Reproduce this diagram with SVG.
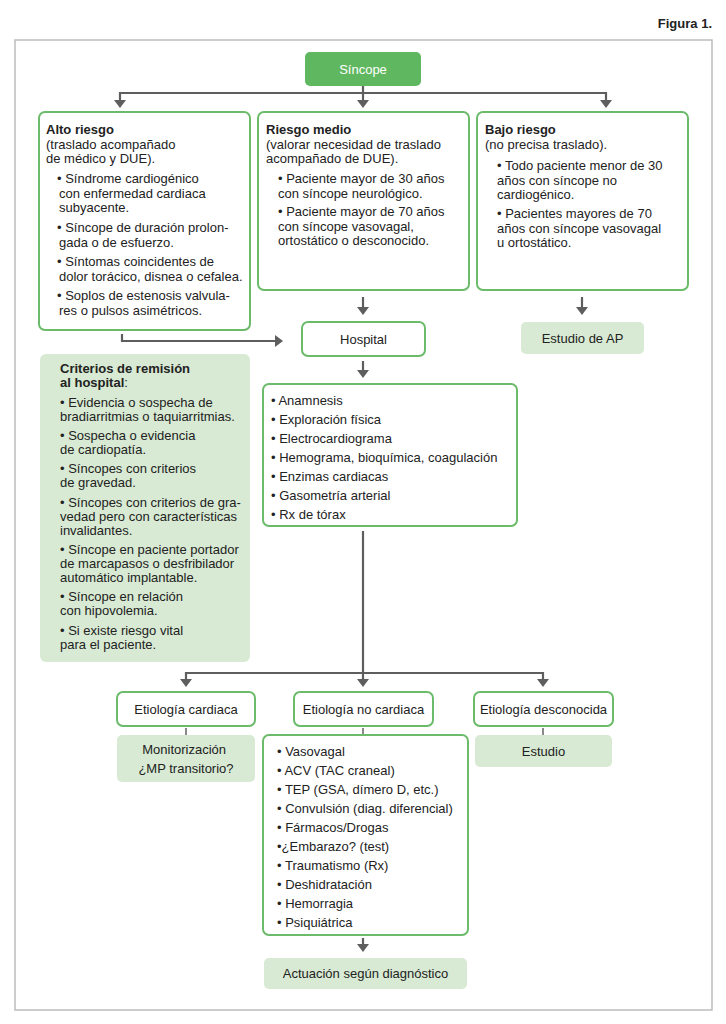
<svg xmlns="http://www.w3.org/2000/svg" width="726" height="1024" viewBox="0 0 726 1024">
<style>
.t{font-family:"Liberation Sans",Arial,sans-serif;font-size:13px;fill:#222}
.b{font-weight:bold}
.c{text-anchor:middle}
.box{fill:#fff;stroke:#6cbb6b;stroke-width:2}
.lt{fill:#d8ead3}
.ln{fill:none;stroke:#5e5e5e;stroke-width:2.2;marker-end:url(#ah)}
.tk{fill:none;stroke:#8a8a8a;stroke-width:2}
</style>
<defs>
<marker id="ah" markerUnits="userSpaceOnUse" markerWidth="8" markerHeight="12" viewBox="0 0 8 12" refX="1" refY="6" orient="auto">
<path d="M0,0 L8,6 L0,12 z" fill="#5e5e5e"/>
</marker>
</defs>
<rect width="726" height="1024" fill="#fff"/>
<text class="t b" x="712" y="28" text-anchor="end" font-size="13.5">Figura 1.</text>
<rect x="15" y="40" width="697" height="970" fill="#fff" stroke="#bdbdbd" stroke-width="1.5"/>

<g id="connectors">
<path class="ln" d="M363,86 V101"/>
<path class="ln" d="M363,93 H120 V101"/>
<path class="ln" d="M363,93 H606 V101"/>
<path class="ln" d="M122,334 V341 H276"/>
<path class="ln" d="M363,297 V308"/>
<path class="ln" d="M582,297 V308"/>
<path class="ln" d="M363,361 V371"/>
<path class="ln" d="M363,531 V680"/>
<path class="ln" d="M363,673 H186 V680"/>
<path class="ln" d="M363,673 H543 V680"/>
<path class="tk" d="M186,728 V735 M363,728 V735 M543,728 V735"/>
<path class="ln" d="M363,938 V945"/>
</g>

<g id="sincope">
<rect x="305" y="52" width="116" height="34" rx="5" fill="#5fb760"/>
<text class="t c" x="363" y="74" font-size="14" fill="#fff" style="fill:#fff">Síncope</text>
</g>

<g id="alto-riesgo">
<rect class="box" x="39" y="112" width="211" height="218" rx="6"/>
<text class="t">
<tspan class="b" x="46" y="134">Alto riesgo</tspan>
<tspan x="46" y="148.5">(traslado acompañado</tspan>
<tspan x="46" y="163">de médico y DUE).</tspan>
<tspan x="57" y="183">• Síndrome cardiogénico</tspan>
<tspan x="59" y="197.5">con enfermedad cardiaca</tspan>
<tspan x="59" y="212">subyacente.</tspan>
<tspan x="57" y="232">• Síncope de duración prolon-</tspan>
<tspan x="59" y="246.5">gada o de esfuerzo.</tspan>
<tspan x="57" y="266">• Síntomas coincidentes de</tspan>
<tspan x="59" y="280.5">dolor torácico, disnea o cefalea.</tspan>
<tspan x="57" y="300">• Soplos de estenosis valvula-</tspan>
<tspan x="59" y="314.5">res o pulsos asimétricos.</tspan>
</text>
</g>

<g id="riesgo-medio">
<rect class="box" x="258" y="112" width="211" height="178" rx="6"/>
<text class="t">
<tspan class="b" x="266" y="134">Riesgo medio</tspan>
<tspan x="266" y="148.5">(valorar necesidad de traslado</tspan>
<tspan x="266" y="163">acompañado de DUE).</tspan>
<tspan x="278" y="183">• Paciente mayor de 30 años</tspan>
<tspan x="278" y="197.5">con síncope neurológico.</tspan>
<tspan x="278" y="216">• Paciente mayor de 70 años</tspan>
<tspan x="278" y="230.5">con síncope vasovagal,</tspan>
<tspan x="278" y="245">ortostático o desconocido.</tspan>
</text>
</g>

<g id="bajo-riesgo">
<rect class="box" x="477" y="112" width="211" height="178" rx="6"/>
<text class="t">
<tspan class="b" x="485" y="134">Bajo riesgo</tspan>
<tspan x="485" y="148.5">(no precisa traslado).</tspan>
<tspan x="497" y="170">• Todo paciente menor de 30</tspan>
<tspan x="497" y="184.5">años con síncope no</tspan>
<tspan x="497" y="199">cardiogénico.</tspan>
<tspan x="497" y="218">• Pacientes mayores de 70</tspan>
<tspan x="497" y="232.5">años con síncope vasovagal</tspan>
<tspan x="497" y="247">u ortostático.</tspan>
</text>
</g>

<g id="hospital">
<rect class="box" x="302" y="322" width="123" height="34" rx="6"/>
<text class="t c" x="363.5" y="343.5">Hospital</text>
</g>

<g id="estudio-ap">
<rect class="lt" x="521" y="322" width="123" height="32" rx="5"/>
<text class="t c" x="582.5" y="342.5">Estudio de AP</text>
</g>

<g id="criterios">
<rect class="lt" x="40" y="354" width="210" height="308" rx="6"/>
<text class="t">
<tspan class="b" x="60" y="373">Criterios de remisión</tspan>
<tspan class="b" x="60" y="387">al hospital</tspan><tspan>:</tspan>
<tspan x="60" y="407">• Evidencia o sospecha de</tspan>
<tspan x="60" y="421">bradiarritmias o taquiarritmias.</tspan>
<tspan x="60" y="440">• Sospecha o evidencia</tspan>
<tspan x="60" y="454">de cardiopatía.</tspan>
<tspan x="60" y="473">• Síncopes con criterios</tspan>
<tspan x="60" y="487">de gravedad.</tspan>
<tspan x="60" y="507">• Síncopes con criterios de gra-</tspan>
<tspan x="60" y="521">vedad pero con características</tspan>
<tspan x="60" y="535">invalidantes.</tspan>
<tspan x="60" y="554">• Síncope en paciente portador</tspan>
<tspan x="60" y="568">de marcapasos o desfribilador</tspan>
<tspan x="60" y="582">automático implantable.</tspan>
<tspan x="60" y="601">• Síncope en relación</tspan>
<tspan x="60" y="615">con hipovolemia.</tspan>
<tspan x="60" y="635">• Si existe riesgo vital</tspan>
<tspan x="60" y="649">para el paciente.</tspan>
</text>
</g>

<g id="pruebas">
<rect class="box" x="263" y="384" width="254" height="142" rx="6"/>
<text class="t">
<tspan x="271" y="405">• Anamnesis</tspan>
<tspan x="271" y="424">• Exploración física</tspan>
<tspan x="271" y="443">• Electrocardiograma</tspan>
<tspan x="271" y="462">• Hemograma, bioquímica, coagulación</tspan>
<tspan x="271" y="481">• Enzimas cardiacas</tspan>
<tspan x="271" y="500">• Gasometría arterial</tspan>
<tspan x="271" y="519">• Rx de tórax</tspan>
</text>
</g>

<g id="etiologia-cardiaca">
<rect class="box" x="117" y="692" width="138" height="34" rx="6"/>
<text class="t c" x="186" y="713.5">Etiología cardiaca</text>
</g>

<g id="etiologia-no-cardiaca">
<rect class="box" x="294" y="692" width="139" height="34" rx="6"/>
<text class="t c" x="363.5" y="713.5">Etiología no cardiaca</text>
</g>

<g id="etiologia-desconocida">
<rect class="box" x="474" y="692" width="139" height="34" rx="6"/>
<text class="t c" x="543.5" y="713.5">Etiología desconocida</text>
</g>

<g id="monitorizacion">
<rect class="lt" x="117" y="735" width="138" height="47" rx="5"/>
<text class="t c">
<tspan x="186" y="754">Monitorización</tspan>
<tspan x="186" y="773">¿MP transitorio?</tspan>
</text>
</g>

<g id="causas">
<rect class="box" x="263" y="735" width="205" height="200" rx="6"/>
<text class="t">
<tspan x="277" y="756">• Vasovagal</tspan>
<tspan x="277" y="775">• ACV (TAC craneal)</tspan>
<tspan x="277" y="794">• TEP (GSA, dímero D, etc.)</tspan>
<tspan x="277" y="813">• Convulsión (diag. diferencial)</tspan>
<tspan x="277" y="832">• Fármacos/Drogas</tspan>
<tspan x="277" y="851">•¿Embarazo? (test)</tspan>
<tspan x="277" y="870">• Traumatismo (Rx)</tspan>
<tspan x="277" y="889">• Deshidratación</tspan>
<tspan x="277" y="908">• Hemorragia</tspan>
<tspan x="277" y="927">• Psiquiátrica</tspan>
</text>
</g>

<g id="estudio">
<rect class="lt" x="475" y="735" width="137" height="32" rx="5"/>
<text class="t c" x="543.5" y="755.5">Estudio</text>
</g>

<g id="actuacion">
<rect class="lt" x="264" y="958" width="203" height="31" rx="5"/>
<text class="t c" x="365.5" y="978">Actuación según diagnóstico</text>
</g>
</svg>
